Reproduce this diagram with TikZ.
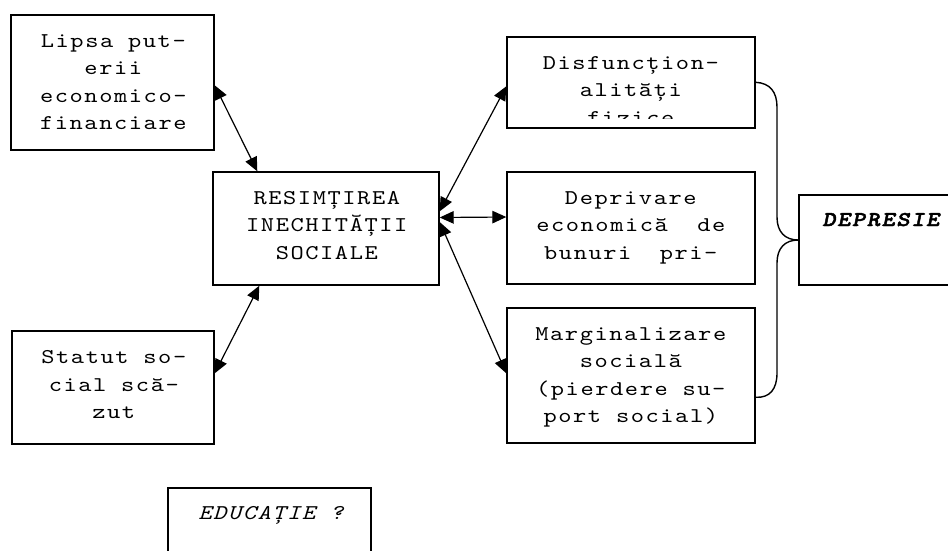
\documentclass[tikz,border=0pt]{standalone}
\usepackage{fontspec}
\newfontfamily\cour{lmmono10-regular.otf}[FakeStretch=1.2,LetterSpace=7.5,
  ItalicFont=lmmono10-italic.otf,
  BoldFont=lmmonolt10-bold.otf,
  BoldItalicFont=lmmonolt10-boldoblique.otf,
  BoldItalicFeatures={FakeBold=2}]
\usetikzlibrary{arrows.meta}
\begin{document}
\begin{tikzpicture}[x=1pt,y=-1pt,
  box/.style={draw=black,line width=1.4pt,rectangle,inner sep=0pt,fill=none},
  txt/.style={font=\cour\fontsize{21}{27.6}\selectfont,inner sep=0pt,anchor=base},
  conn/.style={line width=1.2pt,{Triangle[length=14pt,width=12.5pt]}-{Triangle[length=14pt,width=12.5pt]}},
  brace/.style={line width=1.4pt}]
\useasboundingbox (0,0) rectangle (948,550);
\fill[white] (0,0) rectangle (948,550);
\clip (0,0) rectangle (948,550);
% boxes
\node[box,minimum width=203pt,minimum height=135pt] (lipsa) at (112.5,82.5) {};
\node[box,minimum width=226pt,minimum height=113pt] (resim) at (326,228.5) {};
\node[box,minimum width=202pt,minimum height=113pt] (statut) at (113,387.5) {};
\node[box,minimum width=248pt,minimum height=91pt] (disf) at (631,82.5) {};
\node[box,minimum width=248pt,minimum height=112pt] (depr) at (631,228) {};
\node[box,minimum width=248pt,minimum height=135pt] (marg) at (631,375.5) {};
\node[box,minimum width=161pt,minimum height=90pt] (depresie) at (879.5,240) {};
\node[box,minimum width=203pt,minimum height=82pt] (educ) at (269.5,529) {};
% texts
\node[txt] (tlipsa) at (113.3,47) {\parbox[t]{250pt}{\centering Lipsa put-\\erii\\economico-\\financiare}};
\node[txt] (tresim) at (326.8,204) {\parbox[t]{250pt}{\centering RESIMȚIREA\\INECHITĂȚII\\SOCIALE}};
\node[txt] (tstatut) at (113.8,363.5) {\parbox[t]{250pt}{\centering Statut so-\\cial scă-\\zut}};
\begin{scope}
\clip (507,37) rectangle (755,118);
\node[txt] (tdisf) at (630.8,69) {\parbox[t]{250pt}{\centering Disfuncțion-\\alități\\fizice}};
\end{scope}
\node[txt] (tdepr) at (630.8,204) {\parbox[t]{250pt}{\centering Deprivare\\economică\hspace{1.4em}de\\bunuri\hspace{1.35em}pri-}};
\node[txt] (tmarg) at (630.8,340) {\parbox[t]{250pt}{\centering Marginalizare\\socială\\(pierdere su-\\port social)}};
\node[txt,font=\cour\fontsize{21}{27.6}\selectfont\bfseries\itshape] (tdepresie) at (880.8,226) {DEPRESIE};
\node[txt,font=\cour\fontsize{21}{27.6}\selectfont\itshape] (teduc) at (270.8,519) {EDUCAȚIE ?};
% connectors
\draw[conn] ([yshift=-71pt]lipsa.north east) -- ([xshift=45pt]resim.north west);
\draw[conn] ([yshift=-43pt]statut.north east) -- ([xshift=47pt]resim.south west);
\draw[conn] ([yshift=-40pt]resim.north east) -- ([yshift=-50pt]disf.north west);
\draw[conn] ([yshift=11pt]resim.east) -- ([yshift=11pt]depr.west);
\draw[conn] ([yshift=6.5pt]resim.east) -- ([yshift=-66pt]marg.north west);
% brace
\coordinate (bt) at ([yshift=-46pt]disf.north east);
\coordinate (bb) at ([yshift=-90pt]marg.north east);
\draw[brace] (bt) .. controls (770,83) and (777,92) .. (777,107)
  -- (777,217) .. controls (777,232) and (785,240) .. (depresie.west)
  .. controls (785,240) and (777,248) .. (777,263)
  -- (777,373) .. controls (777,389) and (770,398) .. (bb);
\end{tikzpicture}
\end{document}
